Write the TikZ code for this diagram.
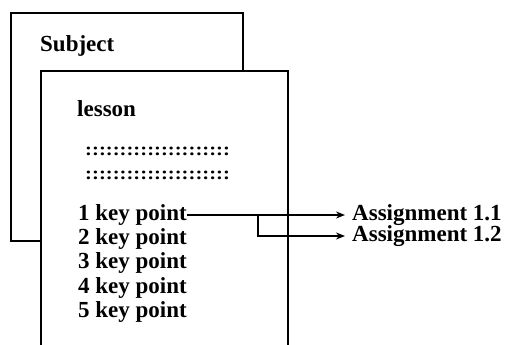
\documentclass[tikz,border=0pt]{standalone}
\usepackage{fontspec}
\setmainfont{Liberation Serif}
\usetikzlibrary{arrows.meta}
\begin{document}
\begin{tikzpicture}[x=1pt,y=-1pt,
  txt/.style={font=\fontsize{23}{23}\selectfont\bfseries, inner sep=0pt, anchor=base west},
  dots/.style={font=\fontsize{18}{18}\selectfont\bfseries, inner sep=0pt, anchor=west, xscale=1.15},
  box/.style={line width=2pt},
  conn/.style={line width=1.6pt, shorten >=7pt, -{Stealth[length=9pt,width=7pt]}}]
\useasboundingbox (0,0) rectangle (509,345);
% back sheet
\draw[box] (11,13) rectangle (243,241);
% front sheet
\fill[white] (41,71) rectangle (288,345);
\draw[box] (41,346) -- (41,71) -- (288,71) -- (288,346);
% texts
\node[txt] (subject) at (40,52) {Subject};
\node[txt] (lesson) at (77,117) {lesson};
\node[dots] (dots1) at (85,151.5) {:::::::::::::::::::::};
\node[dots] (dots2) at (85,175) {:::::::::::::::::::::};
\node[txt] (key1) at (78,220) {1 key point};
\node[txt] (key2) at (78,244.5) {2 key point};
\node[txt] (key3) at (78,268.5) {3 key point};
\node[txt] (key4) at (78,293) {4 key point};
\node[txt] (key5) at (78,317) {5 key point};
\node[txt] (asg1) at (352,220) {Assignment 1.1};
\node[txt] (asg2) at (352,241.5) {Assignment 1.2};
% connectors
\coordinate (split) at (258,215);
\coordinate (bend) at (258,236);
\draw[conn] (key1.east |- split) -- (asg1.west |- split);
\draw[conn] (split) -- (bend) -- (asg2.west |- bend);
\end{tikzpicture}
\end{document}
